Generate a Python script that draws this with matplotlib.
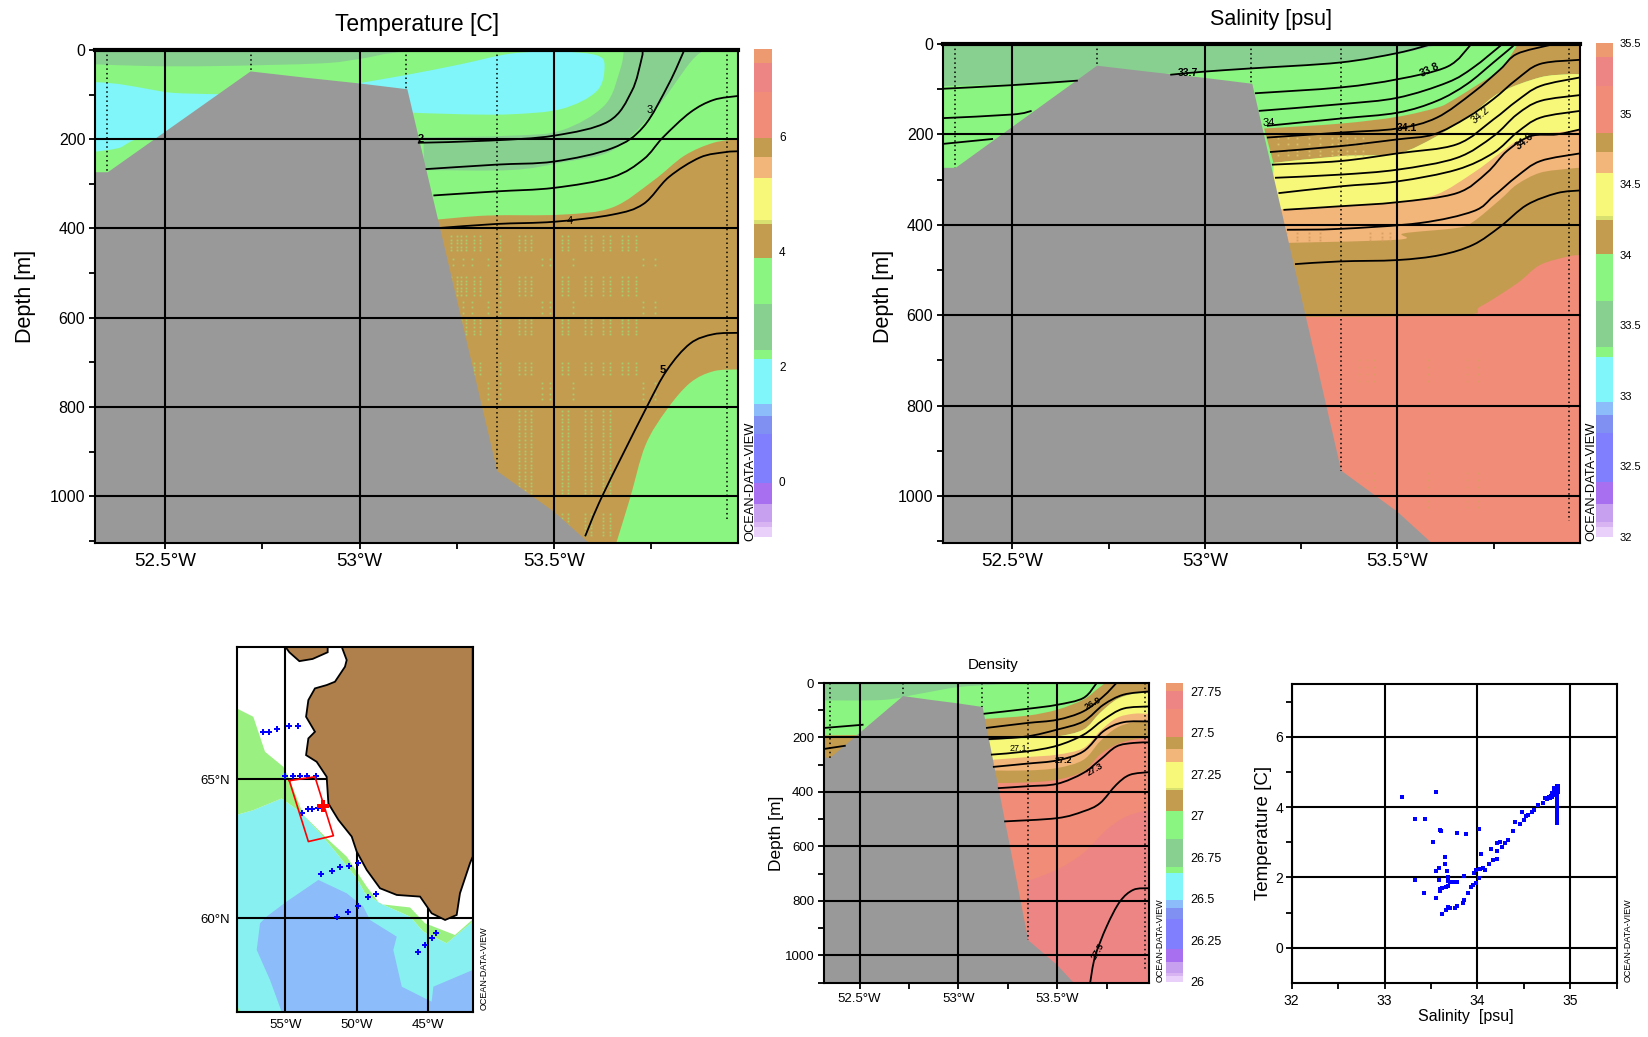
import matplotlib
matplotlib.use("Agg")
import matplotlib.pyplot as plt
import numpy as np
from matplotlib.patches import PathPatch
from matplotlib.path import Path

plt.rcParams['font.family'] = ['Liberation Sans', 'DejaVu Sans']

W, H = 1648, 1037

GREEN = "#8AF580"
DKGREEN = "#88D090"
CYAN = "#80F5FA"
BROWN = "#C49C50"
ORANGE = "#F2B57A"
YELLOW = "#F7F77A"
SALMON = "#F08C78"
PINK = "#EE8585"
LTBLUE = "#8CBCFA"
GRAY = "#999999"

# colour bar, levels in temperature units (the others share the same fractions)
bar_levels = [-0.96, -0.78, -0.70, -0.39, -0.02, 0.83, 1.14, 1.36, 2.13, 2.30,
              3.10, 3.90, 4.49, 4.56, 5.29, 5.65, 5.99, 6.79, 7.29, 7.53]
bar_colors = ["#E8D0FA", "#D8B4F2", "#C8A0F0", "#A870F0", "#8080FF", "#8090F2",
              LTBLUE, CYAN, GREEN, DKGREEN, GREEN, BROWN, "#D8E070", YELLOW,
              ORANGE, BROWN, SALMON, PINK, "#EE9A70"]

# bottom profile, same for the three sections
bottom_lon = [52.32, 52.353, 52.72, 52.86, 53.0, 53.123, 53.354, 53.5, 53.59, 53.6, 52.32]
bottom_depth = [274, 274, 48, 62, 75, 88, 944, 1035, 1105, 1110, 1110]
station_lon = [52.35, 52.72, 53.12, 53.353, 53.945]
station_depth = [274, 48, 88, 944, 1055]

# temperature section, colour regions
t_dk1_lon = [52.32, 52.46, 52.63, 52.9, 53.0, 53.12, 53.4]
t_dk1_depth = [32, 36, 36, 30, 20, 4, 0]
t_dk2o_lon = [53.887, 53.85, 53.755, 53.65, 53.52, 53.39, 53.165]
t_dk2o_depth = [0, 28, 140, 225, 252, 269, 269]
t_dk2i_lon = [53.165, 53.39, 53.52, 53.63, 53.67, 53.68]
t_dk2i_depth = [196, 192, 180, 124, 44, 0]
t_cy1_lon = [52.98, 53.12, 53.26, 53.39, 53.52, 53.61, 53.63, 53.61, 53.52, 53.39, 53.26, 53.12]
t_cy1_depth = [77, 56, 32, 8, 4, 12, 36, 92, 132, 144, 144, 140]
t_cy2_lon = [52.32, 52.38, 52.46, 52.52, 52.63, 52.7, 52.7, 52.46, 52.38, 52.32]
t_cy2_depth = [72, 76, 88, 96, 99, 99, 250, 200, 220, 228]
t_br_top_lon = [53.2, 53.33, 53.52, 53.65, 53.755, 53.835, 53.91, 53.973]
t_br_top_depth = [380, 371, 369, 353, 293, 237, 208, 200]
t_br_low_lon = [53.973, 53.91, 53.85, 53.79, 53.735, 53.695, 53.66]
t_br_low_depth = [716, 720, 746, 806, 886, 1006, 1105]

# temperature isolines
t1_lon = [53.15, 53.335, 53.5, 53.64, 53.70, 53.725, 53.728]
t1_depth = [208, 203, 192, 160, 92, 20, 0]
t2_lon = [53.17, 53.35, 53.5, 53.65, 53.73, 53.795, 53.835]
t2_depth = [267, 257, 250, 220, 172, 76, 0]
t3_lon = [53.19, 53.35, 53.5, 53.65, 53.73, 53.78, 53.85, 53.91, 53.973]
t3_depth = [326, 317, 309, 285, 245, 196, 140, 112, 103]
t4_lon = [53.205, 53.35, 53.5, 53.65, 53.73, 53.795, 53.875, 53.94, 53.973]
t4_depth = [399, 390, 385, 369, 345, 285, 241, 229, 227]
t5_lon = [53.58, 53.625, 53.735, 53.79, 53.85, 53.91, 53.973]
t5_depth = [1090, 998, 806, 718, 658, 637, 634]

# stippled gridding columns in the temperature section
t_stip_cols = [53.235, 53.25, 53.26, 53.275, 53.295, 53.31, 53.36, 53.41, 53.425, 53.44,
               53.52, 53.535, 53.58, 53.595, 53.625, 53.645, 53.675, 53.69, 53.71]
t_stip_cols2 = [53.24, 53.265, 53.29, 53.33, 53.36, 53.47, 53.49, 53.55, 53.73, 53.76]
t_stip_cols3 = [53.41, 53.425, 53.44, 53.52, 53.535, 53.58, 53.595, 53.625, 53.645]
t_stip_top = [417, 509, 605, 702]
t_stip_bot = [453, 553, 641, 734]
t_stip2_top = [469, 565, 746]
t_stip2_bot = [493, 593, 790]
t_stip3_top = [810, 1040]
t_stip3_bot = [1000, 1090]

# stippled patches in the salinity section
s_stip_cols = [53.19, 53.215, 53.24, 53.27, 53.30, 53.33, 53.345, 53.37, 53.39, 53.41]
s_stip_rows = [208, 222, 236, 246]
s_or_stip_cols = [53.21, 53.24, 53.27, 53.30, 53.35, 53.43, 53.46, 53.48]
s_or_stip_rows = [418, 426, 434]
s_sa_stip_cols = [53.40, 53.42, 53.44, 53.58, 53.68, 53.71]
s_sa_stip_rows = [700, 715, 730, 745, 950, 965, 980, 1010, 1025]

# salinity section, colour regions
s_dk_lon = [52.32, 52.5, 52.67, 52.91, 53.12, 53.35, 53.5, 53.59, 53.6]
s_dk_depth = [93, 89, 81, 65, 54, 39, 22, 5, 0]
s_br1_lon = [53.154, 53.354, 53.5, 53.602, 53.64, 53.697, 53.767, 53.81]
s_br1_depth = [187, 176, 161, 141, 126, 96, 56, 4]
s_ye_top_lon = [53.178, 53.354, 53.5, 53.602, 53.697, 53.767, 53.87, 53.944, 53.974]
s_ye_top_depth = [263, 248, 242, 204, 152, 107, 74, 67, 67]
s_or_top_lon = [53.16, 53.354, 53.46, 53.5, 53.602, 53.697, 53.767, 53.81, 53.87, 53.944, 53.974]
s_or_top_depth = [367, 359, 352, 350, 333, 285, 241, 215, 200, 193, 189]
s_br2_top_lon = [53.16, 53.5, 53.516, 53.654, 53.697, 53.767, 53.81, 53.87, 53.944, 53.974]
s_br2_top_depth = [441, 433, 419, 407, 393, 344, 311, 285, 276, 274]
s_sa_top_lon = [53.16, 53.654, 53.715, 53.81, 53.87, 53.944, 53.974]
s_sa_top_depth = [604, 600, 581, 530, 489, 470, 467]

# salinity isolines
s_a1_lon = [52.32, 52.5, 52.67]
s_a1_depth = [99, 91, 81]
s_a2_lon = [52.91, 53.0, 53.12, 53.35, 53.5, 53.59]
s_a2_depth = [68, 61, 54, 41, 20, 0]
s_b1_lon = [52.32, 52.5, 52.55]
s_b1_depth = [164, 156, 148]
s_b2_lon = [53.13, 53.354, 53.5, 53.63, 53.69]
s_b2_depth = [109, 96, 78, 50, 2]
s_c1_lon = [52.32, 52.45]
s_c1_depth = [221, 210]
s_c2_lon = [53.14, 53.354, 53.5, 53.63, 53.697, 53.77]
s_c2_depth = [148, 133, 119, 85, 52, 2]
s_d_lon = [53.161, 53.351, 53.5, 53.602, 53.68, 53.749, 53.801]
s_d_depth = [181, 165, 152, 126, 89, 41, 4]
s_e_lon = [53.161, 53.351, 53.5, 53.602, 53.697, 53.767, 53.81, 53.897]
s_e_depth = [207, 196, 187, 163, 107, 56, 22, 2]
s_f_lon = [53.169, 53.351, 53.5, 53.594, 53.68, 53.749, 53.81, 53.871, 53.974]
s_f_depth = [239, 226, 211, 200, 163, 122, 78, 44, 35]
s_g_lon = [53.174, 53.351, 53.5, 53.654, 53.749, 53.81, 53.871, 53.974]
s_g_depth = [267, 259, 242, 222, 167, 126, 93, 74]
s_h_lon = [53.182, 53.351, 53.5, 53.654, 53.749, 53.81, 53.871, 53.974]
s_h_depth = [296, 289, 278, 252, 204, 156, 126, 113]
s_i_lon = [53.191, 53.351, 53.5, 53.654, 53.749, 53.81, 53.871, 53.974]
s_i_depth = [330, 315, 304, 278, 241, 196, 163, 148]
s_j_lon = [53.204, 53.351, 53.5, 53.654, 53.732, 53.784, 53.845, 53.914, 53.974]
s_j_depth = [367, 359, 350, 330, 285, 237, 204, 200, 189]
s_k_lon = [53.213, 53.351, 53.559, 53.697, 53.749, 53.81, 53.871, 53.974]
s_k_depth = [411, 409, 396, 370, 337, 293, 259, 242]
s_l_lon = [53.234, 53.351, 53.5, 53.611, 53.697, 53.767, 53.836, 53.914, 53.974]
s_l_depth = [487, 481, 478, 467, 444, 404, 356, 330, 324]

# density section, colour regions
d_dk_lon = [52.32, 52.62, 52.8, 53.0, 53.2, 53.25]
d_dk_depth = [64, 62, 40, 15, 5, 0]
d_br0_lon = [52.32, 52.6, 52.6, 52.32]
d_br0_depth = [192, 190, 300, 300]
d_br1_lon = [53.128, 53.347, 53.5, 53.633, 53.70, 53.74]
d_br1_depth = [132, 120, 98, 61, 24, 2]
d_ye_lon = [53.153, 53.347, 53.5, 53.633, 53.717, 53.80, 53.886, 53.965]
d_ye_depth = [211, 202, 196, 171, 110, 61, 40, 37]
d_or_lon = [53.17, 53.347, 53.5, 53.633, 53.717, 53.80, 53.886, 53.965]
d_or_depth = [282, 272, 263, 239, 177, 129, 113, 113]
d_br2_lon = [53.18, 53.347, 53.5, 53.633, 53.717, 53.80, 53.886, 53.965]
d_br2_depth = [321, 321, 312, 282, 214, 165, 144, 141]
d_sa_lon = [53.195, 53.347, 53.5, 53.633, 53.717, 53.80, 53.886, 53.965]
d_sa_depth = [367, 365, 355, 324, 263, 226, 208, 202]
d_pk_lon = [53.347, 53.5, 53.633, 53.75, 53.85, 53.965]
d_pk_depth = [728, 685, 624, 539, 490, 465]

# density isolines
d_a1_lon = [52.32, 52.52]
d_a1_depth = [165, 153]
d_a2_lon = [53.128, 53.347, 53.5, 53.633, 53.70]
d_a2_depth = [113, 95, 80, 55, 0]
d_b1_lon = [52.32, 52.43]
d_b1_depth = [242, 230]
d_b2_lon = [53.14, 53.347, 53.5, 53.633, 53.734, 53.80]
d_b2_depth = [165, 147, 135, 104, 49, 0]
d_c_lon = [53.153, 53.347, 53.5, 53.633, 53.734, 53.835, 53.965]
d_c_depth = [206, 196, 171, 141, 80, 43, 31]
d_d_lon = [53.165, 53.347, 53.5, 53.633, 53.734, 53.835, 53.965]
d_d_depth = [263, 251, 230, 190, 135, 94, 86]
d_e_lon = [53.175, 53.347, 53.5, 53.633, 53.734, 53.835, 53.965]
d_e_depth = [308, 296, 284, 251, 177, 144, 141]
d_f_lon = [53.20, 53.347, 53.5, 53.633, 53.717, 53.80, 53.886, 53.965]
d_f_depth = [386, 379, 370, 330, 282, 233, 220, 218]
d_g_lon = [53.232, 53.5, 53.633, 53.717, 53.80, 53.868, 53.965]
d_g_depth = [508, 496, 471, 441, 373, 337, 327]
d_h_lon = [53.667, 53.692, 53.751, 53.818, 53.886, 53.965]
d_h_depth = [1101, 1004, 893, 802, 759, 753]

# station map
land_lon = [-51.06, -50.71, -50.83, -51.53, -52.11, -52.93, -53.39, -53.55, -52.93, -53.39, -53.55, -52.81,
            -52.11, -51.99, -51.29, -50.36, -50.01, -49.31, -48.38, -47.21, -45.58, -44.77, -43.83,
            -43.02, -42.79, -42.09, -41.9, -41.9]
land_lat = [69.76, 69.28, 69.04, 68.50, 68.38, 68.26, 67.84, 67.24, 66.70, 66.46, 65.86, 65.62,
            65.08, 64.12, 63.53, 62.93, 62.39, 61.73, 61.07, 60.83, 60.77, 60.17, 59.93,
            60.11, 60.89, 61.97, 62.21, 69.76]
island_lon = [-55.0, -54.72, -54.02, -53.09, -52.04, -52.04]
island_lat = [69.76, 69.56, 69.24, 69.32, 69.56, 69.76]
m_green_lon = [-58.40, -57.24, -56.42, -55.14, -54.67, -53.74, -52.11, -50.71, -49.31, -48.38, -46.28, -45.23, -43.14, -41.9,
               -41.9, -43.72, -45.35, -46.28, -48.38, -49.43, -50.01, -51.41, -52.58, -53.97, -55.26, -57.24, -58.40]
m_green_lat = [67.54, 67.24, 65.98, 65.44, 64.94, 63.71, 62.87, 62.21, 61.13, 60.50, 60.38, 59.81, 59.39, 59.95,
               59.87, 59.09, 59.51, 60.05, 60.53, 60.89, 61.43, 62.33, 63.05, 63.82, 64.30, 63.88, 63.71]
m_corner_lon = [-58.40, -58.18, -58.40]
m_corner_lat = [56.90, 56.63, 56.63]
m_cyan_lon = [-58.40, -57.24, -55.26, -53.97, -52.58, -51.41, -50.01, -49.43, -48.38, -46.28, -45.35, -43.72, -41.9, -41.9, -58.40]
m_cyan_lat = [63.71, 63.88, 64.30, 63.82, 63.05, 62.33, 61.43, 60.89, 60.53, 60.05, 59.51, 59.09, 59.87, 56.63, 56.63]
m_blue_lon = [-56.31, -54.91, -52.69, -50.71, -49.55, -49.08, -47.21, -47.45, -46.86, -44.77, -44.65, -41.9, -41.9, -55.26, -56.07, -57.0, -56.77]
m_blue_lat = [60.05, 60.59, 61.37, 60.89, 60.41, 59.93, 59.33, 58.85, 57.53, 56.99, 57.53, 58.13, 56.63, 56.63, 57.77, 58.85, 59.81]
sta_lon = [-56.59, -56.12, -55.61, -54.74, -54.11, -55.0, -54.49, -53.97, -53.51, -52.86,
           -53.86, -53.39, -53.11, -52.69, -52.51, -51.76, -51.15, -50.52, -49.90,
           -51.41, -50.64, -49.90, -49.20, -48.68, -45.72, -45.23, -44.72, -44.49]
sta_lat = [66.70, 66.70, 66.79, 66.89, 66.89, 65.12, 65.12, 65.12, 65.12, 65.12,
           63.79, 63.91, 63.91, 63.97, 61.57, 61.70, 61.82, 61.88, 61.97,
           60.05, 60.23, 60.43, 60.74, 60.86, 58.78, 59.03, 59.27, 59.47]
box_lon = [-54.72, -52.93, -51.64, -53.39, -54.72]
box_lat = [64.94, 65.08, 62.96, 62.75, 64.94]
here_lon = [-52.34]
here_lat = [64.03]

# T-S scatter
ts_sal = [33.19, 33.55, 33.33, 33.44, 33.60, 33.61, 33.52, 33.78, 33.88, 34.02, 34.04, 34.15, 34.21, 34.24, 34.21,
          33.65, 33.65, 33.59, 33.55, 33.67, 33.33, 33.59, 33.42, 33.55, 33.60, 33.60, 33.62, 33.66, 33.68, 33.68,
          33.68, 33.71, 33.75, 33.78, 33.86, 33.96, 33.99, 34.03, 34.06, 34.08, 34.12, 34.17, 34.21, 34.26, 34.30,
          34.33, 34.38, 34.41, 34.46, 34.48, 34.50, 34.52, 34.55, 34.59, 34.61, 34.65, 34.71, 34.73, 34.77, 34.80,
          34.84, 34.87, 33.62, 33.66, 33.68, 33.70, 33.76, 33.78, 33.84, 33.86, 33.90, 33.93, 33.95, 33.98, 34.02,
          34.86, 34.86, 34.86, 34.86, 34.86, 34.86, 34.86, 34.86, 34.86, 34.86, 34.86, 34.86, 34.86, 34.86, 34.86,
          34.82, 34.84, 34.85, 34.87, 34.80, 34.78, 34.75, 34.83, 34.81, 34.79, 34.85, 34.83, 34.87]
ts_temp = [4.28, 4.42, 3.67, 3.67, 3.36, 3.31, 3.02, 3.26, 3.23, 3.38, 2.67, 2.82, 2.98, 3.02, 2.74,
           2.57, 2.37, 2.27, 2.18, 2.18, 1.92, 1.92, 1.56, 1.42, 1.61, 1.67, 1.70, 1.73, 1.75, 1.89,
           2.02, 1.86, 1.86, 1.86, 2.03, 2.13, 2.20, 2.24, 2.27, 2.20, 2.37, 2.51, 2.53, 2.87, 2.98,
           3.07, 3.31, 3.57, 3.53, 3.86, 3.64, 3.74, 3.78, 3.85, 3.93, 4.06, 4.13, 4.26, 4.30, 4.40,
           4.49, 4.59, 0.97, 1.07, 1.17, 1.14, 1.14, 1.18, 1.28, 1.37, 1.56, 1.72, 1.78, 1.85, 1.98,
           3.55, 3.62, 3.70, 3.77, 3.85, 3.92, 4.00, 4.07, 4.15, 4.22, 4.30, 4.37, 4.45, 4.52, 4.60,
           4.35, 4.40, 4.55, 4.50, 4.30, 4.25, 4.22, 4.45, 4.38, 4.33, 4.48, 4.55, 4.42]


def add_axes_px(left, top, right, bottom):
    return fig.add_axes([left / W, 1 - bottom / H, (right - left) / W, (bottom - top) / H])


def curve_parts(x, y):
    # bezier segments through the read points, so matplotlib draws them round
    pts = np.column_stack([x, y]).astype(float)
    verts = [pts[0]]
    codes = [Path.MOVETO]
    n = len(pts)
    for i in range(n - 1):
        p0, p1, p2, p3 = pts[max(i - 1, 0)], pts[i], pts[i + 1], pts[min(i + 2, n - 1)]
        verts += [p1 + (p2 - p0) / 6, p2 - (p3 - p1) / 6, p2]
        codes += [Path.CURVE4] * 3
    return verts, codes


def fill_curves(ax, curves, color):
    verts, codes = [], []
    for k, (x, y) in enumerate(curves):
        v, c = curve_parts(x, y)
        if k > 0:
            c[0] = Path.LINETO
        verts += v
        codes += c
    verts.append(verts[0])
    codes.append(Path.CLOSEPOLY)
    ax.add_patch(PathPatch(Path(verts, codes), facecolor=color, edgecolor="none", lw=0, zorder=1))


def band(ax, lon, depth, east, color):
    # everything below a boundary, down to the axes bottom
    fill_curves(ax, [(lon, depth), ([east, lon[0]], [1200, 1200])], color)


def isoline(ax, lon, depth):
    v, c = curve_parts(lon, depth)
    ax.add_patch(PathPatch(Path(v, c), fill=False, edgecolor="black", lw=1.3, zorder=4))


def stipple(ax, cols, tops, bots, color, step=8):
    for t, b in zip(tops, bots):
        xs, ys = np.meshgrid(cols, np.arange(t, b, step))
        ax.plot(xs.ravel(), ys.ravel(), ls="none", marker="s", ms=1.3, mew=0, color=color, zorder=1.5)


def finish_section(ax, east, bottom, tick_size, xtick_size, thick_top=False):
    ax.fill(bottom_lon, bottom_depth, color=GRAY, lw=0, zorder=2)
    for lon, depth in zip(station_lon, station_depth):
        ax.plot([lon, lon], [0, depth], color="black", ls=(0, (1, 2)), lw=1.1, zorder=5)
    ax.set_xlim(52.32, east)
    ax.set_ylim(bottom, 0)
    ax.set_xticks([52.5, 53, 53.5], ["52.5°W", "53°W", "53.5°W"])
    ax.set_xticks([52.75, 53.25, 53.75], minor=True)
    ax.set_yticks([0, 200, 400, 600, 800, 1000])
    ax.set_yticks([100, 300, 500, 700, 900, 1100], minor=True)
    ax.tick_params(which="both", width=1.3, length=4, pad=3)
    ax.tick_params(axis="y", labelsize=tick_size)
    ax.tick_params(axis="x", labelsize=xtick_size)
    ax.set_axisbelow(False)
    ax.grid(True, which="major", color="black", lw=1.5)
    for side in ax.spines.values():
        side.set_linewidth(1.5)
    if thick_top:
        ax.spines["top"].set_linewidth(3)


def color_bar(left, top, right, bottom, vmin, vmax, ticks, labels, size):
    cax = add_axes_px(left, top, right, bottom)
    frac = (np.array(bar_levels) - bar_levels[0]) / (bar_levels[-1] - bar_levels[0])
    edges = vmin + frac * (vmax - vmin)
    cax.bar(0, np.diff(edges), bottom=edges[:-1], width=1, color=bar_colors, lw=0)
    cax.set_xlim(-0.5, 0.5)
    cax.set_ylim(vmin, vmax)
    cax.set_xticks([])
    cax.yaxis.tick_right()
    cax.set_yticks(ticks, labels)
    cax.tick_params(length=0, labelsize=size, pad=5)
    for side in cax.spines.values():
        side.set_visible(False)


def odv_mark(x, y_bottom, size):
    fig.text(x / W, 1 - y_bottom / H, "OCEAN-DATA-VIEW", rotation=90, fontsize=size,
             ha="center", va="bottom")


def put_text(x, y, text, size, **kw):
    fig.text(x / W, 1 - y / H, text, fontsize=size, ha="center", va="center", **kw)


def iso_label(ax, lon, depth, text, size, rot=0, weight="normal"):
    ax.text(lon, depth, text, fontsize=size, rotation=rot, fontweight=weight,
            ha="center", va="center", zorder=7)


fig = plt.figure(figsize=(W / 100, H / 100), dpi=100, facecolor="white")

# ---- temperature section
ax = add_axes_px(95, 50, 738, 543)
ax.set_facecolor(GREEN)
fill_curves(ax, [(t_dk1_lon, t_dk1_depth), ([52.32], [0])], DKGREEN)
fill_curves(ax, [(t_dk2o_lon, t_dk2o_depth), (t_dk2i_lon, t_dk2i_depth)], DKGREEN)
fill_curves(ax, [(t_cy1_lon, t_cy1_depth)], CYAN)
fill_curves(ax, [(t_cy2_lon, t_cy2_depth)], CYAN)
fill_curves(ax, [(t_br_top_lon, t_br_top_depth), (t_br_low_lon, t_br_low_depth), ([53.2], [1105])], BROWN)
stipple(ax, t_stip_cols, t_stip_top, t_stip_bot, "#A6CC6C")
stipple(ax, t_stip_cols2, t_stip2_top, t_stip2_bot, "#A6CC6C", step=12)
stipple(ax, t_stip_cols3, t_stip3_top, t_stip3_bot, "#A6CC6C")
for lon, depth in [(t1_lon, t1_depth), (t2_lon, t2_depth), (t3_lon, t3_depth), (t4_lon, t4_depth), (t5_lon, t5_depth)]:
    isoline(ax, lon, depth)
iso_label(ax, 53.157, 200, "2", 8, weight="bold")
iso_label(ax, 53.745, 134, "3", 8)
iso_label(ax, 53.54, 383, "4", 8)
iso_label(ax, 53.78, 718, "5", 8, weight="bold")
finish_section(ax, 53.973, 1105, 11.5, 13.5, thick_top=True)
put_text(417, 25, "Temperature [C]", 16.5)
put_text(26, 296, "Depth [m]", 15.5, rotation=90)
color_bar(754, 49, 772, 537, -0.96, 7.53, [0, 2, 4, 6], ["0", "2", "4", "6"], 8.5)
odv_mark(750, 541, 9.3)

# ---- salinity section
ax = add_axes_px(943, 44, 1580, 543)
ax.set_facecolor(GREEN)
fill_curves(ax, [(s_dk_lon, s_dk_depth), ([52.32], [0])], DKGREEN)
fill_curves(ax, [(s_br1_lon, s_br1_depth), ([53.83, 53.974], [0, 0]), (s_ye_top_lon[::-1], s_ye_top_depth[::-1])], BROWN)
band(ax, s_ye_top_lon, s_ye_top_depth, 53.974, YELLOW)
band(ax, s_or_top_lon, s_or_top_depth, 53.974, ORANGE)
band(ax, s_br2_top_lon, s_br2_top_depth, 53.974, BROWN)
band(ax, s_sa_top_lon, s_sa_top_depth, 53.974, SALMON)
xs, ys = np.meshgrid(s_stip_cols, s_stip_rows)
ax.plot(xs.ravel(), ys.ravel(), ls="none", marker="s", ms=1.3, mew=0, color="#D6C26A", zorder=1.5)
xs, ys = np.meshgrid(s_or_stip_cols, s_or_stip_rows)
ax.plot(xs.ravel(), ys.ravel(), ls="none", marker="s", ms=1.3, mew=0, color="#D8A060", zorder=1.5)
xs, ys = np.meshgrid(s_sa_stip_cols, s_sa_stip_rows)
ax.plot(xs.ravel(), ys.ravel(), ls="none", marker="s", ms=1.3, mew=0, color="#E09A66", zorder=1.5)
s_lines = [(s_a1_lon, s_a1_depth), (s_a2_lon, s_a2_depth), (s_b1_lon, s_b1_depth), (s_b2_lon, s_b2_depth),
           (s_c1_lon, s_c1_depth), (s_c2_lon, s_c2_depth), (s_d_lon, s_d_depth), (s_e_lon, s_e_depth),
           (s_f_lon, s_f_depth), (s_g_lon, s_g_depth), (s_h_lon, s_h_depth), (s_i_lon, s_i_depth),
           (s_j_lon, s_j_depth), (s_k_lon, s_k_depth), (s_l_lon, s_l_depth)]
for lon, depth in s_lines:
    isoline(ax, lon, depth)
iso_label(ax, 52.955, 64, "33.7", 7.5, weight="bold")
iso_label(ax, 53.585, 58, "33.8", 7.5, rot=25, weight="bold")
iso_label(ax, 53.165, 175, "34", 8)
iso_label(ax, 53.525, 185, "34.1", 7.5, weight="bold")
iso_label(ax, 53.715, 157, "34.2", 7.5, rot=40)
iso_label(ax, 53.83, 215, "34.6", 7.5, rot=40, weight="bold")
finish_section(ax, 53.974, 1104, 11.5, 13.5, thick_top=True)
put_text(1271, 19, "Salinity [psu]", 15.5)
put_text(883, 296, "Depth [m]", 15.5, rotation=90)
color_bar(1596, 43, 1613, 537, 32, 35.5, [32, 32.5, 33, 33.5, 34, 34.5, 35, 35.5],
          ["32", "32.5", "33", "33.5", "34", "34.5", "35", "35.5"], 8)
odv_mark(1591, 541, 9.3)

# ---- density section
ax = add_axes_px(824, 683, 1149, 983)
ax.set_facecolor(GREEN)
fill_curves(ax, [(d_dk_lon, d_dk_depth), ([52.32], [0])], DKGREEN)
ax.fill(d_br0_lon, d_br0_depth, color=BROWN, lw=0, zorder=1)
fill_curves(ax, [(d_br1_lon, d_br1_depth), ([53.76, 53.965], [0, 0]), (d_ye_lon[::-1], d_ye_depth[::-1])], BROWN)
band(ax, d_ye_lon, d_ye_depth, 53.965, YELLOW)
band(ax, d_or_lon, d_or_depth, 53.965, ORANGE)
band(ax, d_br2_lon, d_br2_depth, 53.965, BROWN)
band(ax, d_sa_lon, d_sa_depth, 53.965, SALMON)
band(ax, d_pk_lon, d_pk_depth, 53.965, PINK)
d_lines = [(d_a1_lon, d_a1_depth), (d_a2_lon, d_a2_depth), (d_b1_lon, d_b1_depth), (d_b2_lon, d_b2_depth),
           (d_c_lon, d_c_depth), (d_d_lon, d_d_depth), (d_e_lon, d_e_depth), (d_f_lon, d_f_depth),
           (d_g_lon, d_g_depth), (d_h_lon, d_h_depth)]
for lon, depth in d_lines:
    isoline(ax, lon, depth)
iso_label(ax, 53.305, 242, "27.1", 6.5)
iso_label(ax, 53.53, 285, "27.2", 6.5, weight="bold")
iso_label(ax, 53.69, 318, "27.3", 6.5, rot=30, weight="bold")
iso_label(ax, 53.68, 75, "26.9", 6.5, rot=30, weight="bold")
iso_label(ax, 53.705, 985, "27.5", 6.5, rot=60, weight="bold")
finish_section(ax, 53.965, 1101, 9.5, 9.5)
put_text(993, 665, "Density", 11)
put_text(776, 833, "Depth [m]", 12.5, rotation=90)
color_bar(1166, 683, 1183, 982, 26, 27.8, [26, 26.25, 26.5, 26.75, 27, 27.25, 27.5, 27.75],
          ["26", "26.25", "26.5", "26.75", "27", "27.25", "27.5", "27.75"], 9)
odv_mark(1160, 982, 6.5)

# ---- station map
ax = add_axes_px(236.7, 646.7, 472.7, 1011.7)
ax.fill(m_green_lon, m_green_lat, color="#9AF080", lw=0, zorder=1)
ax.fill(m_corner_lon, m_corner_lat, color="#9AF080", lw=0, zorder=1)
ax.fill(m_cyan_lon, m_cyan_lat, color="#88F0F0", lw=0, zorder=0.9)
ax.fill(m_blue_lon, m_blue_lat, color=LTBLUE, lw=0, zorder=1)
ax.fill(land_lon, land_lat, facecolor="#AF7F4C", edgecolor="black", lw=1.3, zorder=2)
ax.fill(island_lon, island_lat, facecolor="#AF7F4C", edgecolor="black", lw=1.3, zorder=2)
ax.plot(sta_lon, sta_lat, ls="none", marker="P", ms=5, color="#0000FF", mew=0, zorder=4)
ax.plot(box_lon, box_lat, color="#FF0000", lw=1.2, zorder=5)
ax.plot(here_lon, here_lat, ls="none", marker="P", ms=8, color="#FF0000", mew=0, zorder=5)
ax.set_xlim(-58.40, -41.90)
ax.set_ylim(56.63, 69.76)
ax.set_xticks([-55, -50, -45], ["55°W", "50°W", "45°W"])
ax.set_yticks([60, 65], ["60°N", "65°N"])
ax.tick_params(length=0, labelsize=9.5, pad=5)
ax.grid(True, color="black", lw=1.5)
for side in ax.spines.values():
    side.set_linewidth(1.5)
odv_mark(484, 1010, 6.5)

# ---- T-S scatter
ax = add_axes_px(1291.7, 684, 1616.7, 983)
ax.plot(ts_sal, ts_temp, ls="none", marker="s", ms=2.8, color="#0000FF", mew=0, zorder=4)
ax.set_xlim(32, 35.49)
ax.set_ylim(-1, 7.5)
ax.set_xticks([32, 33, 34, 35])
ax.set_xticks([32.5, 33.5, 34.5, 35.5], minor=True)
ax.set_yticks([0, 2, 4, 6])
ax.set_yticks([1, 3, 5, 7], minor=True)
ax.tick_params(which="both", width=1.3, length=4, labelsize=10, pad=2)
ax.tick_params(axis="x", pad=4)
ax.grid(True, which="major", color="black", lw=1.5)
for side in ax.spines.values():
    side.set_linewidth(1.5)
put_text(1264, 833, "Temperature [C]", 13.5, rotation=90)
put_text(1466, 1017, "Salinity  [psu]", 11.5)
odv_mark(1628, 982, 6.5)

fig.savefig("out.png", dpi=100)
